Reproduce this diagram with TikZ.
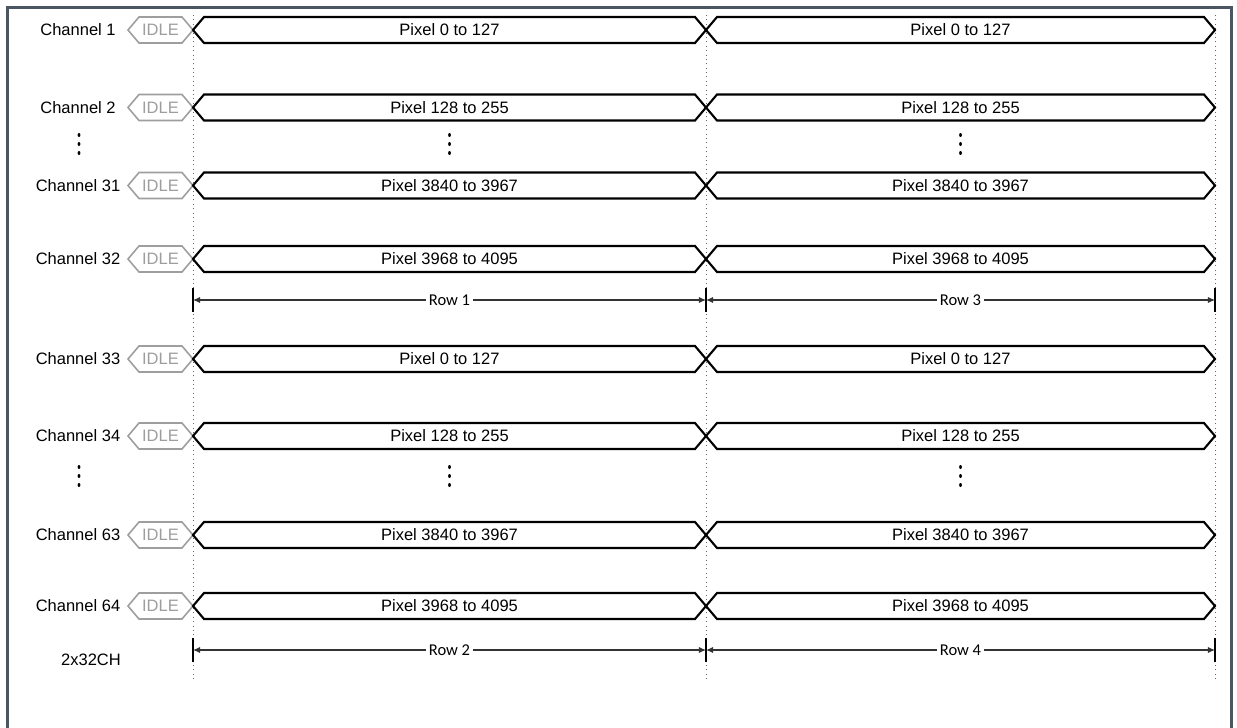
\documentclass[tikz,border=0pt]{standalone}
\usepackage{fontspec}
\setmainfont{Liberation Sans}
\newfontfamily\rowfont{Carlito}
\usetikzlibrary{arrows.meta}

\definecolor{framegray}{HTML}{4A5662}
\definecolor{idlegray}{HTML}{9E9E9E}

\begin{document}
\begin{tikzpicture}[x=0.02cm, y=-0.02cm,
    txt/.style={font=\fontsize{9.4}{11}\selectfont, inner sep=0pt},
    idletxt/.style={txt, text=idlegray},
    idlebox/.style={draw=idlegray, line width=0.9pt, line join=miter},
    bus/.style={draw=black, line width=1.2pt, line join=miter},
    guide/.style={draw=black!60, dotted, line width=0.5pt},
    tick/.style={draw=black, line width=0.9pt},
    rowarrow/.style={draw=black!80, line width=0.6pt, {Latex[length=4pt,width=3.5pt]}-{Latex[length=4pt,width=3.5pt]}},
    rowlabel/.style={font=\rowfont\fontsize{9.4}{11}\selectfont, fill=white, inner sep=1.5pt},
    vdot/.style={fill=black}]
    \useasboundingbox (0,0) rectangle (1237,727);

    % Frame
    \draw[framegray, line width=2pt] (7.5,7.5) rectangle (1231.5,780);

    % Guide lines
    \draw[guide] (193,15) -- (193,680);
    \draw[guide] (706,15) -- (706,680);
    \draw[guide] (1215,15) -- (1215,680);

    % Channels
    \foreach \y/\ch/\px in {30/1/0 to 127, 107.5/2/128 to 255, 185.5/31/3840 to 3967, 259/32/3968 to 4095,
                            359/33/0 to 127, 436/34/128 to 255, 535/63/3840 to 3967, 606/64/3968 to 4095} {
        \node[txt] (ch\ch) at (78,\y) {Channel \ch};
        \draw[idlebox] (128,\y) -- ++(11,-13) -- ++(43,0) -- ++(11,13) -- ++(-11,13) -- ++(-43,0) -- cycle;
        \node[idletxt] (idle\ch) at (160.5,\y) {IDLE};
        \draw[bus] (193,\y) -- ++(11,-13) -- ++(491,0) -- ++(11,13) -- ++(-11,13) -- ++(-491,0) -- cycle;
        \node[txt] (pa\ch) at (449.5,\y) {Pixel \px};
        \draw[bus] (706,\y) -- ++(11,-13) -- ++(487,0) -- ++(11,13) -- ++(-11,13) -- ++(-487,0) -- cycle;
        \node[txt] (pb\ch) at (960.5,\y) {Pixel \px};
    }

    % Skipped channels
    \foreach \x in {79,449.5,960.5}
        \foreach \yy in {135,144,153,467,476,485}
            \fill[vdot] (\x,\yy) circle [x radius=1.4, y radius=2];

    % Row markers
    \coordinate (r1s) at (193,300);
    \coordinate (r1m) at (706,300);
    \coordinate (r1e) at (1215,300);
    \coordinate (r2s) at (193,650);
    \coordinate (r2m) at (706,650);
    \coordinate (r2e) at (1215,650);
    \foreach \x in {193,706,1215} {
        \draw[tick] (\x,288) -- (\x,312);
        \draw[tick] (\x,638) -- (\x,662);
    }
    \draw[rowarrow] (r1s) -- (r1m) node[midway, rowlabel] (row1) {Row 1};
    \draw[rowarrow] (r1m) -- (r1e) node[midway, rowlabel] (row3) {Row 3};
    \draw[rowarrow] (r2s) -- (r2m) node[midway, rowlabel] (row2) {Row 2};
    \draw[rowarrow] (r2m) -- (r2e) node[midway, rowlabel] (row4) {Row 4};

    \node[txt] (mode) at (91,660) {2x32CH};
\end{tikzpicture}
\end{document}
